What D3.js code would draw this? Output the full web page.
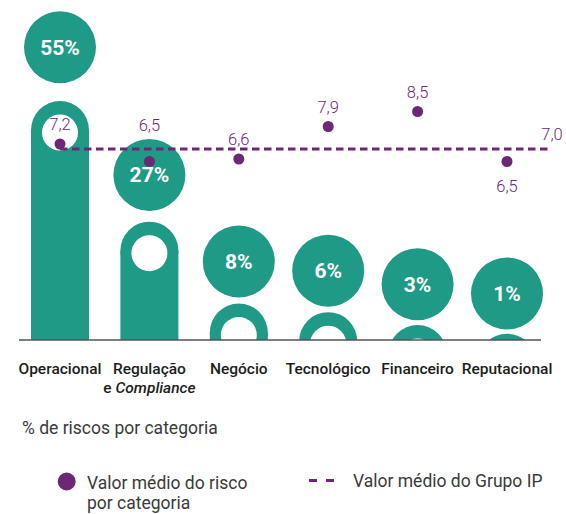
<!DOCTYPE html>
<html>
<head>
<meta charset="utf-8">
<script src="https://cdn.jsdelivr.net/npm/d3@7"></script>
<style>
  html, body { margin: 0; padding: 0; background: #ffffff; }
  svg { display: block; font-family: Roboto, "Noto Sans", sans-serif; }
</style>
</head>
<body>
<svg id="chart" width="566" height="514"></svg>
<script>
// Risk categories, share of risks (%) and mean risk value per category
const categories = ["Operacional", "Regulação e Compliance", "Negócio", "Tecnológico", "Financeiro", "Reputacional"];
const riskShare = [55, 27, 8, 6, 3, 1];
const riskMean = [7.2, 6.5, 6.6, 7.9, 8.5, 6.5];
const groupMean = 7.0;

const fmt = v => d3.format(".1f")(v).replace(".", ",");

const GREEN = "#1f9a86";
const PURPLE = "#6b2874";

const svg = d3.select("#chart");
const baseline = 340;
const barR = 29, holeR = 18, holeDrop = 31.5, bubbleR = 36;

const x = d3.scalePoint().domain(categories).range([60, 507]);
// share scale: a tiny stub remains at zero so the smallest bars still show
const yShare = d3.scaleLinear().domain([0, 55]).range([baseline - 2, 101]);
const yMean = d3.scaleLinear().domain([6, 9]).range([174, 99]);

const rows = categories.map((c, i) => ({ cat: c, share: riskShare[i], mean: riskMean[i] }));

svg.append("defs").append("clipPath").attr("id", "plotClip")
  .append("rect").attr("x", 0).attr("y", 0).attr("width", 566).attr("height", baseline);

// Pill-shaped bars with a hole in the rounded cap
const bars = svg.append("g").attr("clip-path", "url(#plotClip)");
const bar = bars.selectAll("g.bar").data(rows).join("g").attr("class", "bar");
bar.append("rect")
  .attr("x", d => x(d.cat) - barR)
  .attr("y", d => yShare(d.share) + barR)
  .attr("width", barR * 2)
  .attr("height", d => Math.max(0, baseline - (yShare(d.share) + barR)))
  .attr("fill", GREEN);
bar.append("circle")
  .attr("cx", d => x(d.cat))
  .attr("cy", d => yShare(d.share) + barR)
  .attr("r", barR)
  .attr("fill", GREEN);
bar.append("circle")
  .attr("cx", d => x(d.cat))
  .attr("cy", d => yShare(d.share) + holeDrop)
  .attr("r", holeR)
  .attr("fill", "#ffffff");

// Bubbles with the share label, floating above each bar
const bubbleY = d => yShare(d.share) - bubbleR - (4 + 0.25 * d.share);
const bubbles = svg.append("g");
bubbles.selectAll("circle").data(rows).join("circle")
  .attr("cx", d => x(d.cat))
  .attr("cy", bubbleY)
  .attr("r", bubbleR)
  .attr("fill", GREEN);
bubbles.selectAll("text").data(rows).join("text")
  .attr("x", d => x(d.cat))
  .attr("y", d => bubbleY(d) + 7.5)
  .attr("text-anchor", "middle")
  .attr("font-size", 21)
  .attr("font-weight", 700)
  .attr("fill", "#ffffff")
  .text(d => d.share + "%");

// Group average reference line
const lineY = yMean(groupMean);
const lineX1 = x(categories[0]);
const lineX2 = x(categories[categories.length - 1]) + 41;
svg.append("line")
  .attr("x1", lineX1).attr("x2", lineX2)
  .attr("y1", lineY).attr("y2", lineY)
  .attr("stroke", PURPLE)
  .attr("stroke-width", 3)
  .attr("stroke-dasharray", "7.5,4.5");
const lineLabelX = lineX2 + 4;
svg.append("text")
  .attr("x", lineLabelX)
  .attr("y", lineY - 9)
  .attr("text-anchor", "middle")
  .attr("font-size", 16.5)
  .attr("font-weight", 300)
  .attr("fill", PURPLE)
  .text(fmt(groupMean));

// Mean risk per category: dots and value labels
svg.append("g").selectAll("circle").data(rows).join("circle")
  .attr("cx", d => x(d.cat))
  .attr("cy", d => yMean(d.mean))
  .attr("r", 5.5)
  .attr("fill", PURPLE);

svg.append("g").selectAll("text").data(rows).join("text")
  .attr("x", d => x(d.cat))
  .attr("y", d => {
    const cy = yMean(d.mean);
    // labels near the reference-line label go underneath
    if (Math.abs(x(d.cat) - lineLabelX) < 60) return cy + 30;
    const top = bubbleY(d) - bubbleR, bottom = bubbleY(d) + bubbleR;
    // a dot sitting on its bubble gets its label lifted clear of the bubble
    if (cy > top && cy < bottom) return top - 8;
    return cy - 14;
  })
  .attr("text-anchor", "middle")
  .attr("font-size", 16.5)
  .attr("font-weight", 300)
  .attr("fill", PURPLE)
  .text(d => fmt(d.mean));

// Baseline axis
svg.append("line")
  .attr("x1", 19).attr("x2", 541)
  .attr("y1", baseline).attr("y2", baseline)
  .attr("stroke", "#555555")
  .attr("stroke-width", 1.5);

// Category labels
const catLabels = svg.append("g").selectAll("text").data(rows).join("text")
  .attr("x", d => x(d.cat))
  .attr("y", 374)
  .attr("text-anchor", "middle")
  .attr("font-size", 15.5)
  .attr("font-weight", 500)
  .attr("fill", "#1c1c1c");
catLabels.each(function (d) {
  const t = d3.select(this);
  if (d.cat === "Regulação e Compliance") {
    t.append("tspan").attr("x", x(d.cat)).text("Regulação");
    const l2 = t.append("tspan").attr("x", x(d.cat)).attr("dy", 19);
    l2.append("tspan").text("e ");
    l2.append("tspan").attr("font-style", "italic").text("Compliance");
  } else {
    t.text(d.cat);
  }
});

// Legend
const legend = svg.append("g").attr("fill", "#3a3a3a").attr("font-size", 17.5);
legend.append("text").attr("x", 22).attr("y", 434).text("% de riscos por categoria");
legend.append("circle").attr("cx", 66.7).attr("cy", 481.5).attr("r", 9).attr("fill", PURPLE);
const lt = legend.append("text").attr("x", 87).attr("y", 488.5);
lt.append("tspan").attr("x", 87).text("Valor médio do risco");
lt.append("tspan").attr("x", 87).attr("dy", 20).text("por categoria");
legend.append("line")
  .attr("x1", 309).attr("x2", 335).attr("y1", 480.5).attr("y2", 480.5)
  .attr("stroke", PURPLE).attr("stroke-width", 3).attr("stroke-dasharray", "8,9");
legend.append("text").attr("x", 353).attr("y", 487).text("Valor médio do Grupo IP");
</script>
</body>
</html>
